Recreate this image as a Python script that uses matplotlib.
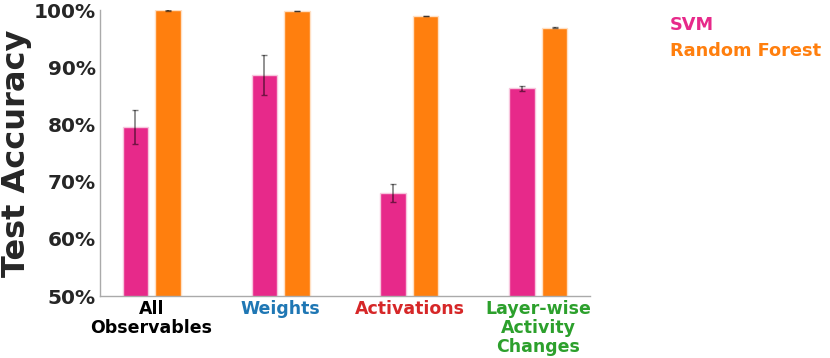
import numpy as np
import matplotlib.pyplot as plt

categories = ["All\nObservables", "Weights", "Activations", "Layer-wise\nActivity\nChanges"]
cat_colors = ["black", "#1f77b4", "#d62728", "#2ca02c"]
svm = [79.5, 88.6, 68.0, 86.3]
svm_err = [3.0, 3.5, 1.5, 0.4]
rf = [99.95, 99.85, 98.95, 96.9]
rf_err = [0.05, 0.05, 0.08, 0.1]

fig = plt.figure(figsize=(8.3, 3.58), dpi=100)
ax = fig.add_axes([100 / 830, 62 / 358, 490 / 830, 286 / 358])

x = np.arange(len(categories))
w = 0.2
ax.bar(x - 0.125, svm, w, yerr=svm_err, color="#e7298a", edgecolor="#f7c6dd", linewidth=1,
       error_kw=dict(ecolor="black", alpha=0.5, capsize=2, elinewidth=1.2), label="SVM")
ax.bar(x + 0.125, rf, w, yerr=rf_err, color="#ff7f0e", edgecolor="#ffe0c4", linewidth=1,
       error_kw=dict(ecolor="black", alpha=0.5, capsize=2, elinewidth=1.2), label="Random Forest")

ax.set_xlim(-0.4, 3.4)
ax.set_ylim(50, 100)
ax.set_yticks([50, 60, 70, 80, 90, 100])
ax.set_yticklabels([f"{v}%" for v in [50, 60, 70, 80, 90, 100]], fontsize=14.5, fontweight="bold", color="#262626")
ax.set_xticks(x)
ax.set_xticklabels(categories, fontsize=12.5, fontweight="bold", linespacing=1.05)
for lab, c in zip(ax.get_xticklabels(), cat_colors):
    lab.set_color(c)
ax.tick_params(length=0, pad=3)
ax.set_ylabel("Test Accuracy", fontsize=23, fontweight="bold", color="#262626")
ax.yaxis.set_label_coords(-0.138, 0.5)

for s in ["top", "right"]:
    ax.spines[s].set_visible(False)
for s in ["left", "bottom"]:
    ax.spines[s].set_color("#aaaaaa")
    ax.spines[s].set_linewidth(1)

leg = ax.legend(loc="upper left", bbox_to_anchor=(654 / 830, 1.0), bbox_transform=fig.transFigure,
                frameon=False, handlelength=0, handletextpad=0,
                prop=dict(weight="bold", size=12.8), labelspacing=0.45)
for h in leg.legend_handles:
    h.set_visible(False)
for t, c in zip(leg.get_texts(), ["#e7298a", "#ff7f0e"]):
    t.set_color(c)

fig.savefig("out.png", dpi=100)
